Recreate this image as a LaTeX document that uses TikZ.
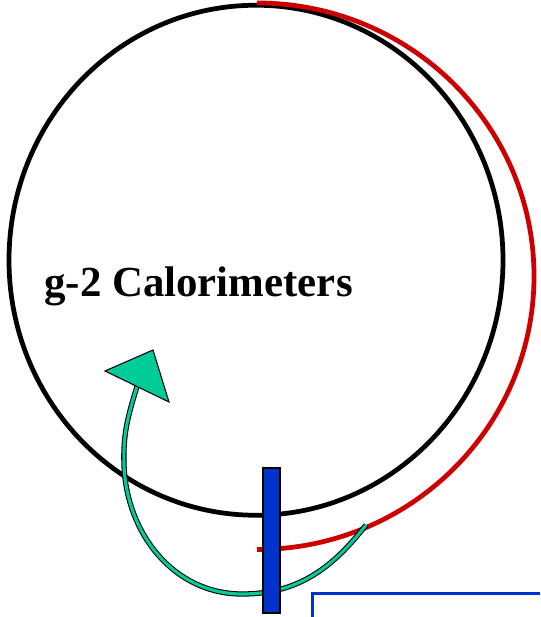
\documentclass[tikz,border=0pt]{standalone}
\usepackage{fontspec}
\setmainfont{Liberation Serif}
\usepackage{xcolor}
\usepackage{tikz}
\usetikzlibrary{positioning}
\definecolor{rojo}{RGB}{204,0,0}
\definecolor{azul}{RGB}{0,51,204}
\definecolor{verde}{RGB}{0,204,153}

\begin{document}
\begin{tikzpicture}[x=0.02cm, y=0.02cm,
  anillo/.style={line width=2.7pt},
  titulo/.style={font=\fontsize{24.4}{28}\selectfont\bfseries, inner sep=0pt},
  detector/.style={draw=black, fill=azul, line width=0.6pt, inner sep=0pt,
    minimum width=0.34cm, minimum height=2.9cm},
  flecha/.style={draw=black, double=verde, double distance=1.8pt, line width=0.6pt},
  punta/.style={draw=black, fill=verde, line width=0.6pt, line join=miter},
  linea/.style={draw=azul, line width=1.7pt}
]
  \useasboundingbox (0,0) rectangle (540,617);
  \draw[anillo] (256,356.75) ellipse [x radius=247, y radius=255];
  \draw[anillo, rojo] (257,614) arc[start angle=90, end angle=-90, x radius=277, y radius=273.25];
  \node[titulo, anchor=base] (cal) at (198.5,320) {g-2 Calorimeters};
  \coordinate (cola) at (366,92);
  \coordinate (fondo) at (242,23);
  \coordinate (izq) at (124,152);
  \coordinate (base) at (137,230.5);
  \draw[flecha] (cola) to[out=232,in=0] (fondo) to[out=180,in=-88] (izq) to[out=92,in=-107] (base);
  \filldraw[punta] (105,246) -- (153,267) -- (169,215) -- cycle;
  \node[detector] (det) at (271.5,76.5) {};
  \coordinate (l0) at (312.5,0);
  \coordinate (l1) at (312.5,23.5);
  \coordinate (l2) at (540,23.5);
  \draw[linea] (l0) -- (l1) -- (l2);
\end{tikzpicture}
\end{document}
